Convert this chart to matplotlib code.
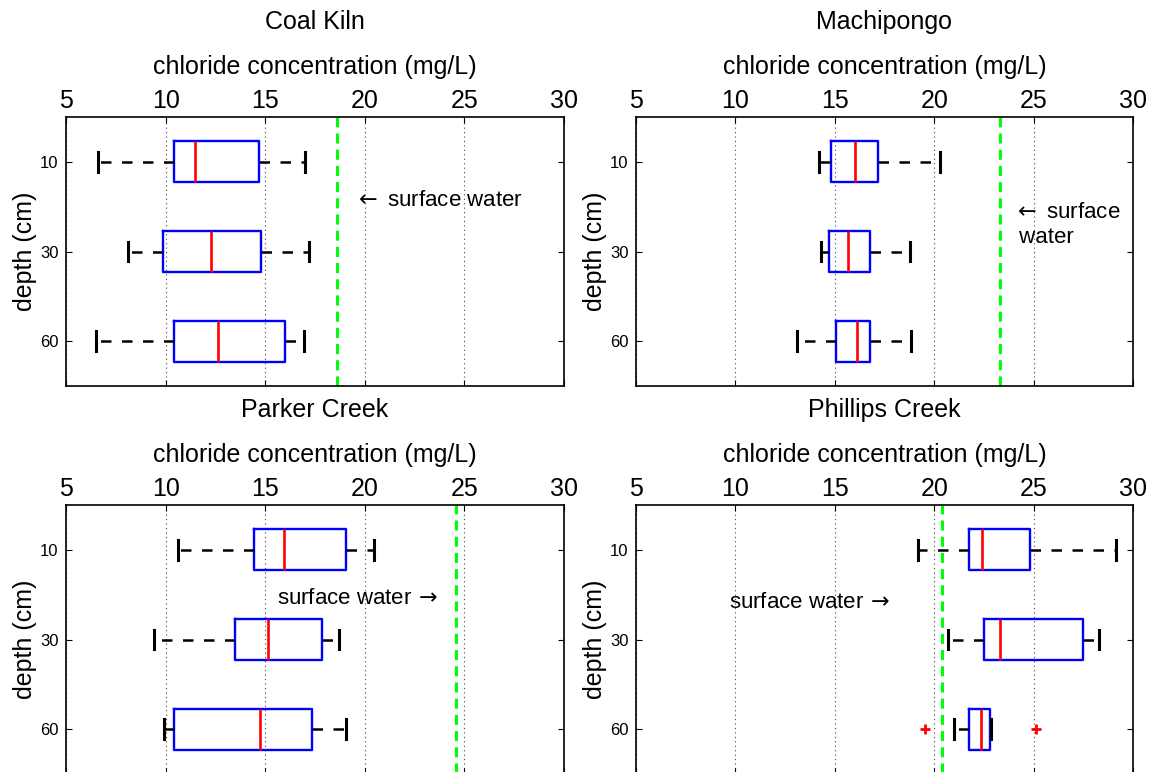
import numpy as np
import matplotlib.pyplot as plt

plt.rcParams['font.family'] = ['Liberation Sans', 'DejaVu Sans']

sites = ['Coal Kiln', 'Machipongo', 'Parker Creek', 'Phillips Creek']
depths = ['10', '30', '60']

# box statistics per site, one entry per depth (10, 30, 60 cm)
whislo = [[6.6, 8.1, 6.5], [14.2, 14.3, 13.1], [10.6, 9.4, 9.9], [19.2, 20.7, 21.0]]
q1 = [[10.4, 9.85, 10.4], [14.8, 14.7, 15.05], [14.45, 13.5, 10.4], [21.75, 22.5, 21.75]]
med = [[11.5, 12.3, 12.65], [16.0, 15.65, 16.1], [15.95, 15.15, 14.75], [22.4, 23.3, 22.37]]
q3 = [[14.7, 14.8, 16.0], [17.15, 16.75, 16.75], [19.05, 17.85, 17.35], [24.8, 27.5, 22.8]]
whishi = [[17.0, 17.2, 16.95], [20.3, 18.8, 18.85], [20.45, 18.7, 19.05], [29.15, 28.3, 22.85]]
fliers = [[[], [], []], [[], [], []], [[], [], []], [[], [], [19.55, 25.1]]]

# surface water chloride for each site
surface = [18.6, 23.3, 24.6, 20.4]

# annotation text and where it sits (data x, data y)
notes = [r'$\leftarrow$ surface water', r'$\leftarrow$ surface' + '\n water',
         r'surface water$\,\rightarrow$', r'surface water$\,\rightarrow$']
note_xy = [(19.45, 1.43), (23.95, 1.70), (15.6, 1.54), (9.7, 1.59)]

W, H = 1155, 772
fig = plt.figure(figsize=(W / 100, H / 100), dpi=100)

# axes boxes in pixels: left, right, top, bottom
boxes = [(66, 564, 117, 386), (636, 1133, 117, 386),
         (66, 564, 505, 774), (636, 1133, 505, 774)]

for i, site in enumerate(sites):
    l, r, t, b = boxes[i]
    ax = fig.add_axes([l / W, 1 - b / H, (r - l) / W, (b - t) / H])
    stats = []
    for j in range(3):
        stats.append(dict(med=med[i][j], q1=q1[i][j], q3=q3[i][j],
                          whislo=whislo[i][j], whishi=whishi[i][j],
                          fliers=fliers[i][j]))
    ax.bxp(stats, positions=[1, 2, 3], widths=0.46, orientation='horizontal',
           capwidths=0.22, showfliers=True,
           boxprops=dict(color='blue', linewidth=1.7),
           medianprops=dict(color='red', linewidth=1.9),
           whiskerprops=dict(color='black', linewidth=1.8, linestyle=(0, (4.2, 4.2))),
           capprops=dict(color='black', linewidth=2.2),
           flierprops=dict(marker='+', markeredgecolor='red', markersize=7,
                           markeredgewidth=2.0, linestyle='none'))
    ax.axvline(surface[i], color=(0, 1, 0), linewidth=2.2,
               linestyle=(0, (3.3, 2.0)), zorder=1)

    ax.set_xlim(5, 30)
    ax.set_ylim(3.5, 0.5)
    ax.set_xticks([5, 10, 15, 20, 25, 30])
    ax.set_yticks([1, 2, 3])
    ax.set_yticklabels(depths)
    ax.xaxis.tick_top()
    ax.tick_params(axis='x', labelsize=18, top=True, bottom=True, direction='in',
                   length=4, pad=3)
    ax.tick_params(axis='y', labelsize=12, left=True, right=True, direction='in',
                   length=4, pad=5.5)
    ax.grid(axis='x', linestyle=(0, (1, 3)), color='#444444', linewidth=0.8)
    ax.set_axisbelow(True)
    for s in ax.spines.values():
        s.set_linewidth(1.2)

    ax.text(0.5, 1.186, 'chloride concentration (mg/L)', fontsize=18,
            ha='center', va='center', transform=ax.transAxes)
    ax.text(0.5, 1.352, site, fontsize=18, ha='center', va='center',
            transform=ax.transAxes)
    ax.set_ylabel('depth (cm)', fontsize=18, labelpad=2)

    nx, ny = note_xy[i]
    ax.text(nx, ny, notes[i], fontsize=16, va='center', ha='left', linespacing=1.25)

fig.savefig('out.png', dpi=100)
